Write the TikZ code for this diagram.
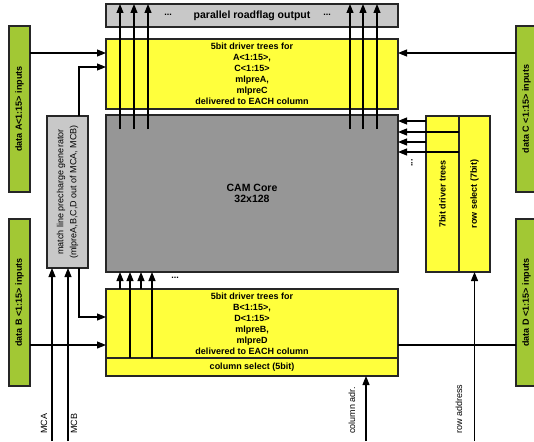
\documentclass[tikz,border=0pt]{standalone}
\usepackage{fontspec}
\setmainfont{Liberation Sans}
\usetikzlibrary{arrows.meta}
\definecolor{gyel}{RGB}{255,255,60}
\definecolor{ggreen}{RGB}{162,200,52}
\definecolor{lgray}{RGB}{200,200,200}
\definecolor{cgray}{RGB}{150,150,150}
\begin{document}
\begin{tikzpicture}[x=1pt,y=-1pt,
  box/.style={draw=black!85, line width=1.1pt, inner sep=0pt, outer sep=0pt, anchor=north west},
  bt/.style={font=\bfseries\fontsize{9}{11}\selectfont, align=center, inner sep=0pt},
  rt/.style={font=\fontsize{9}{13}\selectfont, align=center, inner sep=0pt, rotate=90},
  arr/.style={line width=1.1pt, -{Triangle[length=9pt,width=7pt]}},
  ln/.style={line width=1.1pt},
  lbl/.style={font=\fontsize{9}{11}\selectfont, rotate=90, inner sep=0pt, anchor=west}]
\useasboundingbox (0,0) rectangle (534,441);
\fill[white] (0,0) rectangle (534,441);
% boxes
\node[box, fill=lgray, minimum width=292pt, minimum height=23pt] (rf) at (106,4) {};
\node[bt, font=\bfseries\fontsize{10.5}{12}\selectfont] (rft) at (rf.center) {parallel roadflag output};
\node[bt] (rfd1) at (168,15) {...};
\node[bt] (rfd2) at (327,15) {...};
\node[box, fill=gyel, minimum width=292pt, minimum height=70pt] (bA) at (106,39) {};
\node[bt] (bAt) at (bA.center) {5bit driver trees for\\A<1:15>,\\C<1:15>\\mlpreA,\\mlpreC\\delivered to EACH column};
\node[box, fill=cgray, minimum width=292pt, minimum height=157pt] (core) at (106,115) {};
\node[bt, font=\bfseries\fontsize{10.5}{11.5}\selectfont] (coret) at (core.center) {CAM Core\\32x128};
\node[box, fill=lgray, minimum width=41pt, minimum height=152pt] (ml) at (47,116) {};
\node[rt] (mlt) at (ml.center) {match line precharge generator\\(mlpreA,B,C,D out of MCA, MCB)};
\node[box, fill=ggreen, minimum width=21pt, minimum height=166pt] (dA) at (9,26) {};
\node[bt, rotate=90] (dAt) at (dA.center) {data A<1:15> inputs};
\node[box, fill=ggreen, minimum width=21pt, minimum height=166pt] (dC) at (516,26) {};
\node[bt, rotate=90] (dCt) at (dC.center) {data C <1:15> inputs};
\node[box, fill=ggreen, minimum width=21pt, minimum height=167pt] (dB) at (9,219) {};
\node[bt, rotate=90] (dBt) at (dB.center) {data B <1:15> inputs};
\node[box, fill=ggreen, minimum width=21pt, minimum height=167pt] (dD) at (516,219) {};
\node[bt, rotate=90] (dDt) at (dD.center) {data D <1:15> inputs};
\node[box, fill=gyel, minimum width=33pt, minimum height=156pt] (tr) at (426,116) {};
\node[bt, rotate=90] (trt) at (tr.center) {7bit driver trees};
\node[box, fill=gyel, minimum width=31pt, minimum height=156pt] (rs) at (459,116) {};
\node[bt, rotate=90] (rst) at (rs.center) {row select (7bit)};
\node[box, fill=gyel, minimum width=292pt, minimum height=69pt] (bB) at (106,289) {};
\node[bt] (bBt) at (bB.center) {5bit driver trees for\\B<1:15>,\\D<1:15>\\mlpreB,\\mlpreD\\delivered to EACH column};
\node[box, fill=gyel, minimum width=292pt, minimum height=18pt] (cs) at (106,358) {};
\node[bt] (cst) at (cs.center) {column select (5bit)};
\node[bt] (dots1) at (175,278) {...};
\node[bt, rotate=90] (dots2) at (412,163) {...};
% coordinates
\coordinate (yA) at (0,53);
\coordinate (yM1) at (0,67);
\coordinate (yM2) at (0,317);
\coordinate (yB) at (0,345);
\coordinate (mlx) at (79,0);
\foreach \n/\x in {1/120,2/134,3/148,4/350,5/363,6/377}{
  \coordinate (u\n) at (\x,129);
  \draw[arr] (u\n) -- (u\n |- rf.north);
}
\foreach \n/\y in {1/121,2/132,3/142,4/152}{
  \coordinate (r\n) at (0,\y);
  \draw[arr] (tr.west |- r\n) -- (core.east |- r\n);
}
\draw[ln] (tr.west |- r2) -- (tr.east |- r2);
\draw[ln] (tr.west |- r4) -- (tr.east |- r4);
\foreach \n/\x in {1/120,3/141}{
  \coordinate (b\n) at (\x,0);
  \draw[arr] (b\n |- bB.north) -- (b\n |- core.south);
}
\foreach \n/\x in {2/130,4/152}{
  \coordinate (b\n) at (\x,0);
  \draw[arr] (b\n |- cs.north) -- (b\n |- core.south);
}
\draw[arr] (dA.east |- yA) -- (bA.west |- yA);
\draw[arr] (dC.west |- yA) -- (bA.east |- yA);
\draw[arr] (ml.north -| mlx) |- (bA.west |- yM1);
\draw[arr] (ml.south -| mlx) |- (bB.west |- yM2);
\draw[arr] (dB.east |- yB) -- (bB.west |- yB);
\draw[ln] (dD.west |- yB) -- (bB.east |- yB);
% bottom inputs
\coordinate (mca) at (52,441);
\coordinate (mcb) at (68,441);
\coordinate (cadr) at (366,441);
\coordinate (radr) at (474.5,441);
\draw[arr] (mca) -- (mca |- ml.south);
\draw[arr] (mcb) -- (mcb |- ml.south);
\draw[arr] (cadr) -- (cadr |- cs.south);
\draw[arr] (radr) -- (radr |- rs.south);
\node[lbl] (lmca) at (44,434) {MCA};
\node[lbl] (lmcb) at (74,434) {MCB};
\node[lbl] (lcadr) at (352,434) {column adr.};
\node[lbl] (lradr) at (459,434) {row address};
\end{tikzpicture}
\end{document}
